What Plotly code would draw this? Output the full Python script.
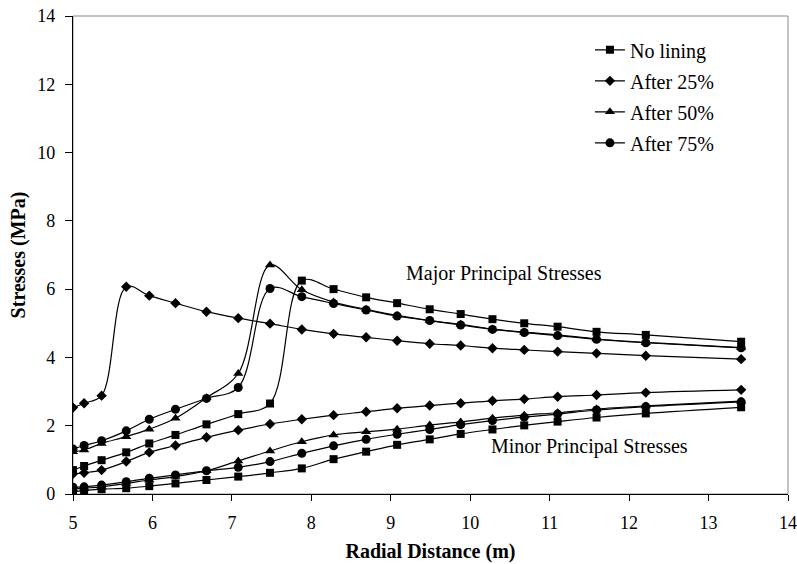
import plotly.graph_objects as go

# Radial distance (m)
radial = [5.0, 5.14, 5.36, 5.67, 5.96, 6.29, 6.68, 7.08, 7.48, 7.88, 8.28,
          8.69, 9.08, 9.49, 9.88, 10.28, 10.68, 11.1, 11.59, 12.21, 13.41]

series_names = ["No lining", "After 25%", "After 50%", "After 75%"]
symbols = ["square", "diamond", "triangle-up", "circle"]

# Major principal stresses (MPa)
major_no_lining = [0.70, 0.82, 0.99, 1.22, 1.48, 1.73, 2.04, 2.34, 2.65, 6.25, 6.00,
                   5.76, 5.59, 5.41, 5.27, 5.12, 5.00, 4.90, 4.75, 4.66, 4.46]
major_25 = [2.53, 2.66, 2.88, 6.07, 5.81, 5.59, 5.34, 5.15, 4.99, 4.82, 4.69,
            4.59, 4.49, 4.40, 4.35, 4.27, 4.22, 4.17, 4.12, 4.05, 3.95]
major_50 = [1.24, 1.29, 1.48, 1.68, 1.90, 2.22, 2.82, 3.53, 6.71, 5.98, 5.62,
            5.41, 5.23, 5.08, 4.97, 4.83, 4.74, 4.66, 4.54, 4.44, 4.29]
major_75 = [1.32, 1.42, 1.56, 1.85, 2.19, 2.48, 2.80, 3.12, 6.02, 5.78, 5.58,
            5.39, 5.21, 5.08, 4.95, 4.82, 4.73, 4.64, 4.53, 4.43, 4.28]

# Minor principal stresses (MPa)
minor_no_lining = [0.07, 0.10, 0.14, 0.17, 0.23, 0.31, 0.41, 0.51, 0.62, 0.75, 1.02,
                   1.24, 1.44, 1.60, 1.76, 1.89, 2.01, 2.12, 2.24, 2.36, 2.54]
minor_25 = [0.59, 0.62, 0.70, 0.95, 1.22, 1.42, 1.66, 1.87, 2.05, 2.19, 2.31,
            2.41, 2.51, 2.59, 2.66, 2.73, 2.78, 2.85, 2.90, 2.97, 3.05]
minor_50 = [0.14, 0.17, 0.21, 0.31, 0.41, 0.51, 0.68, 0.97, 1.26, 1.53, 1.73,
            1.82, 1.90, 2.02, 2.11, 2.22, 2.31, 2.38, 2.49, 2.58, 2.72]
minor_75 = [0.20, 0.21, 0.26, 0.36, 0.46, 0.56, 0.68, 0.78, 0.95, 1.19, 1.41,
            1.60, 1.75, 1.89, 2.03, 2.15, 2.25, 2.34, 2.46, 2.56, 2.70]

majors = [major_no_lining, major_25, major_50, major_75]
minors = [minor_no_lining, minor_25, minor_50, minor_75]
marker_sizes = [8, 8, 9, 9]

FONT = "Liberation Serif, Times New Roman, serif"

fig = go.Figure()
for i, name in enumerate(series_names):
    for j, ys in enumerate([majors[i], minors[i]]):
        fig.add_trace(go.Scatter(
            x=radial, y=ys, mode="lines+markers", name=name,
            legendgroup=name, showlegend=(j == 0),
            line=dict(color="black", width=1.2, shape="spline", smoothing=1),
            marker=dict(symbol=symbols[i], size=marker_sizes[i], color="black"),
        ))

fig.add_annotation(x=9.17, y=6.47, text="Major Principal Stresses", showarrow=False,
                   xanchor="left", yanchor="middle", font=dict(size=20, family=FONT, color="black"))
fig.add_annotation(x=10.24, y=1.38, text="Minor Principal Stresses", showarrow=False,
                   xanchor="left", yanchor="middle", font=dict(size=20, family=FONT, color="black"))

# plot-area border (grey)
fig.add_shape(type="rect", xref="x domain", yref="y domain", x0=0, x1=1, y0=0, y1=1,
              line=dict(color="#888888", width=1), layer="below")

fig.update_layout(
    width=797, height=564,
    margin=dict(l=73, r=9, t=16, b=70),
    paper_bgcolor="white", plot_bgcolor="white",
    font=dict(family=FONT, size=18, color="black"),
    legend=dict(x=0.723, y=0.97, xanchor="left", yanchor="top",
                font=dict(size=20, family=FONT), bgcolor="rgba(0,0,0,0)",
                tracegroupgap=2, traceorder="grouped"),
    xaxis=dict(range=[5, 14], dtick=1, tick0=5, showgrid=False, zeroline=False,
               showline=True, linecolor="black", linewidth=1.3, automargin=False,
               ticks="outside", ticklen=6, tickcolor="black", ticklabelstandoff=6,
               tickfont=dict(size=18, family=FONT),
               title=dict(text="<b>Radial Distance (m)</b>", font=dict(size=20, family=FONT),
                          standoff=12)),
    yaxis=dict(range=[0, 14], dtick=2, tick0=0, showgrid=False, zeroline=False,
               showline=True, linecolor="black", linewidth=1.3, automargin=False,
               ticks="outside", ticklen=7, tickcolor="black", ticklabelstandoff=6,
               tickfont=dict(size=18, family=FONT),
               title=dict(text="<b>Stresses (MPa)</b>", font=dict(size=20, family=FONT),
                          standoff=6)),
)

fig.write_html("out.html")
